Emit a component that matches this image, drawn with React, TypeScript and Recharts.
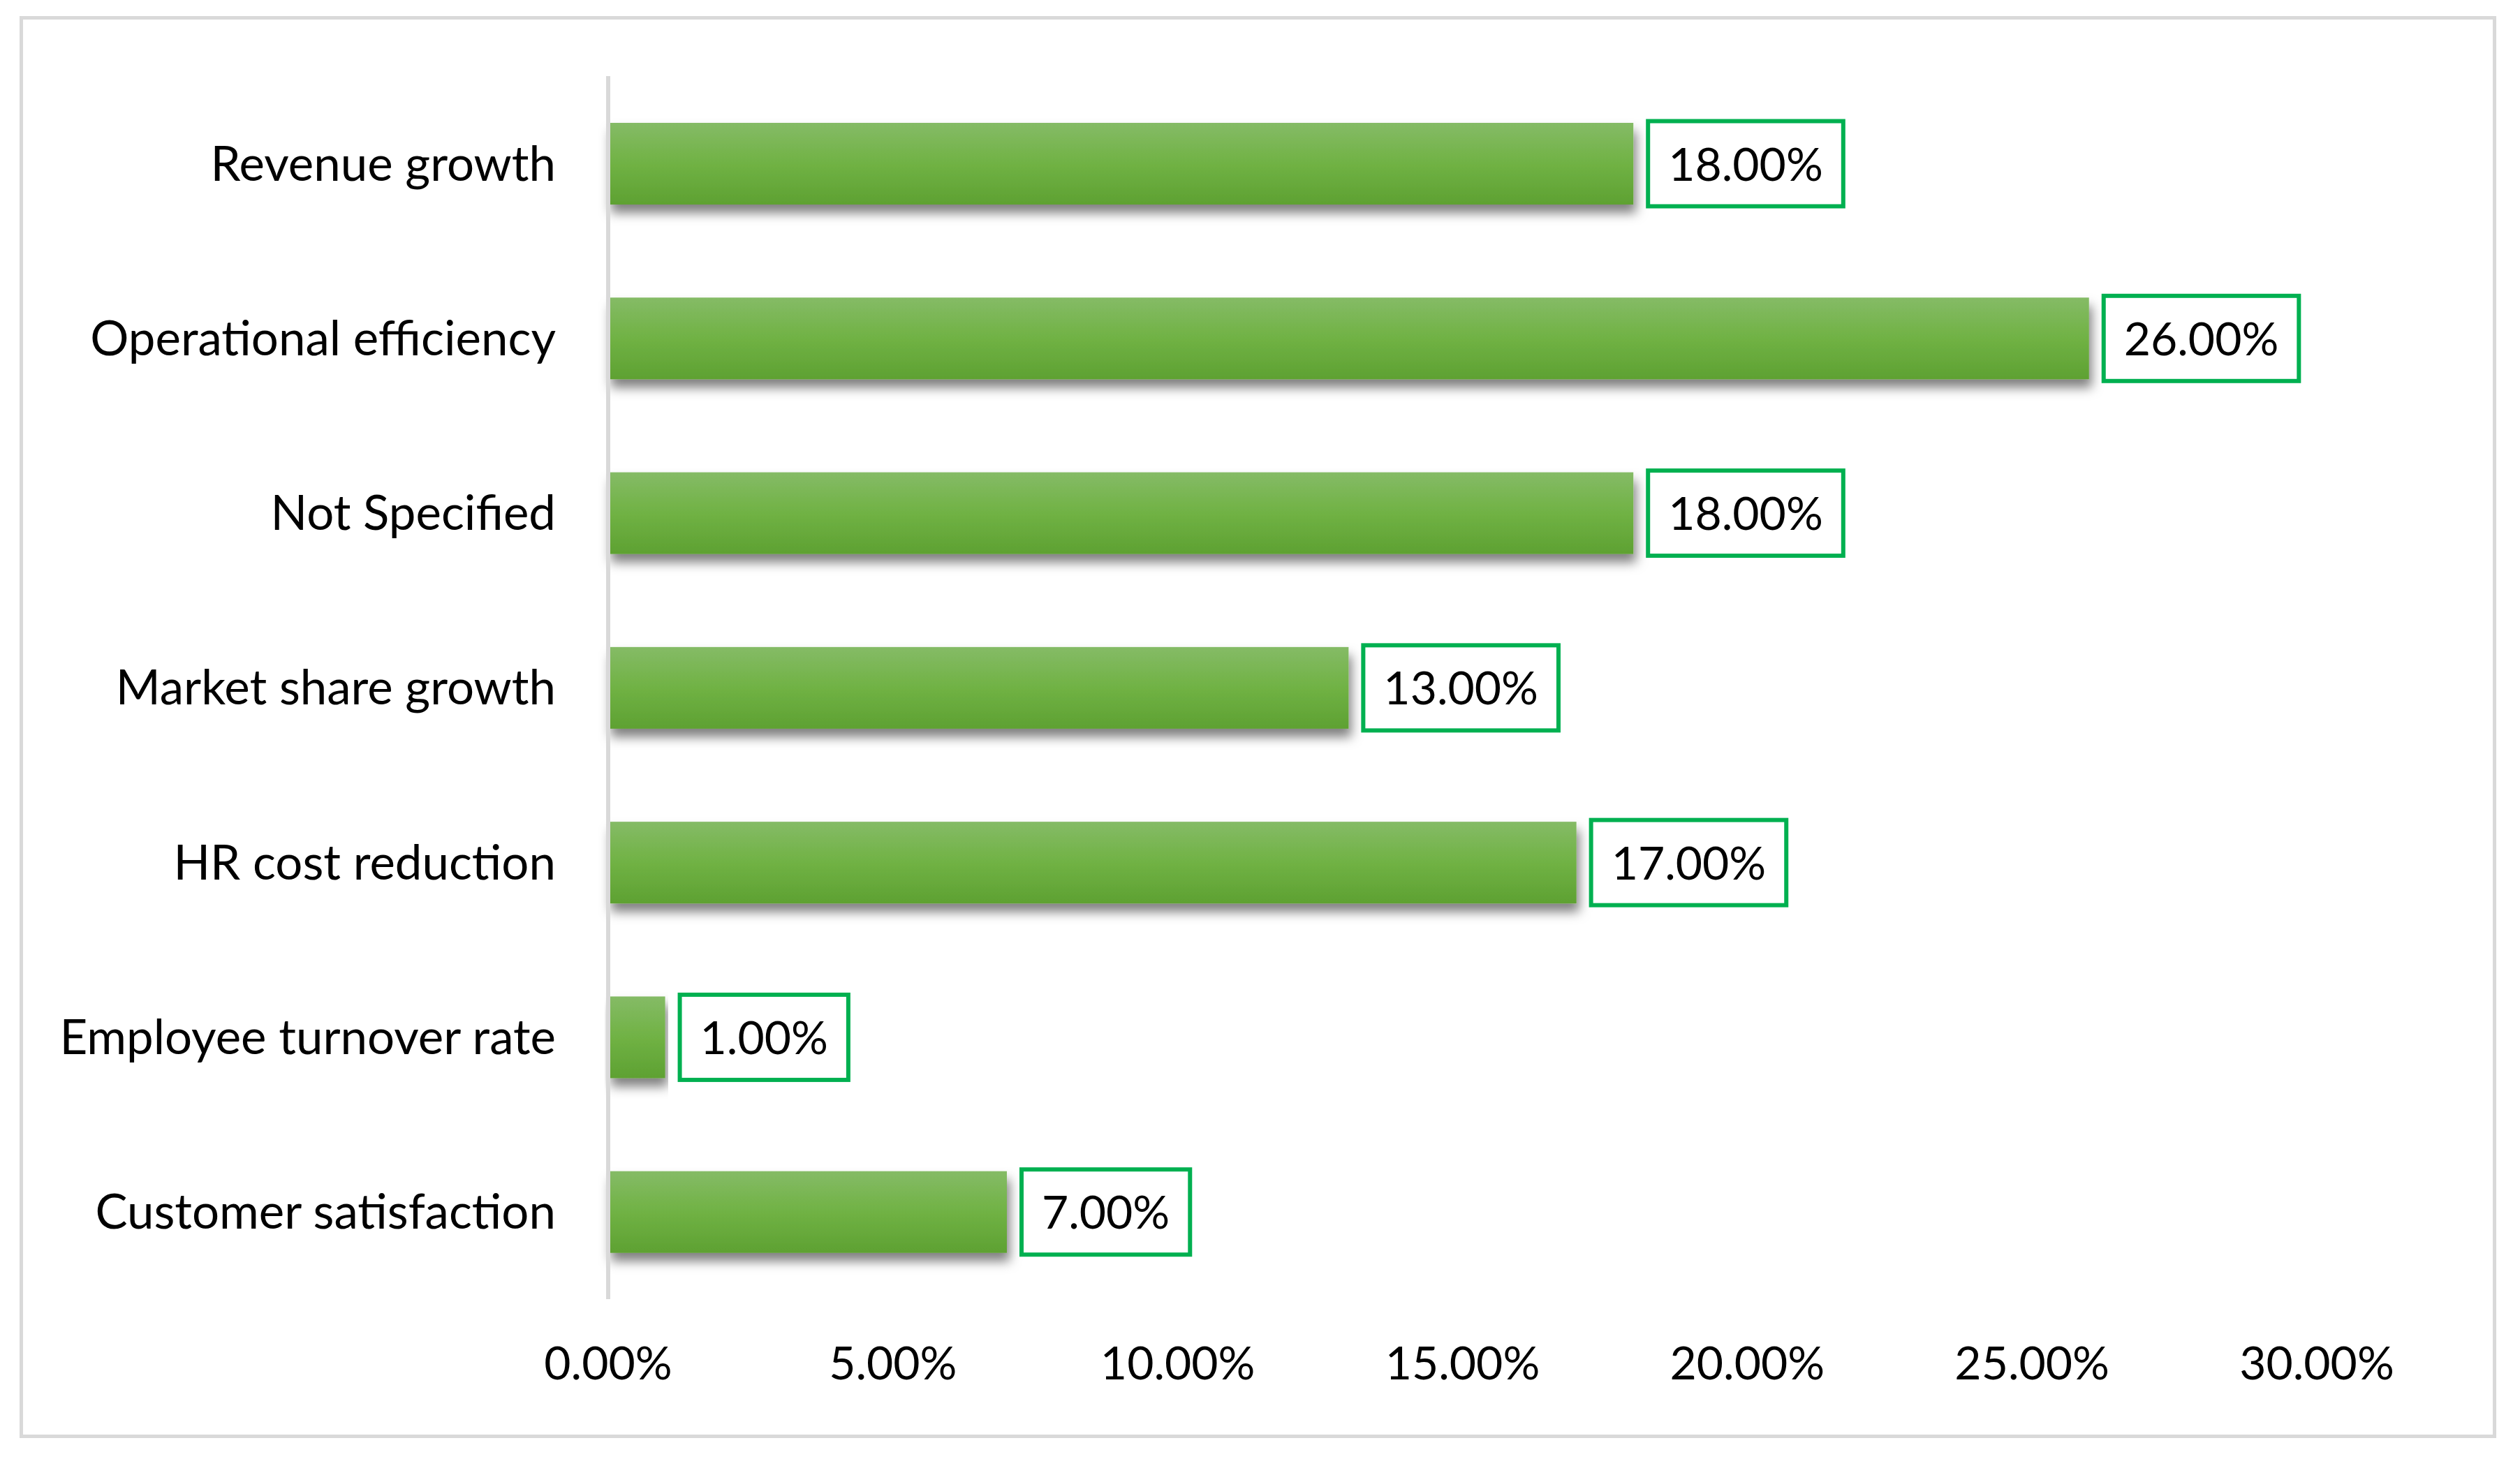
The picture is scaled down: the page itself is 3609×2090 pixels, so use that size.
import React from "react";
import { BarChart, Bar, XAxis, YAxis, LabelList } from "recharts";

const categories = [
  "Revenue growth",
  "Operational efficiency",
  "Not Specified",
  "Market share growth",
  "HR cost reduction",
  "Employee turnover rate",
  "Customer satisfaction",
];
const values = [0.18, 0.26, 0.18, 0.13, 0.17, 0.01, 0.07];
const xTicks = [0, 0.05, 0.1, 0.15, 0.2, 0.25, 0.3];

const data = categories.map((name, i) => ({ name, value: values[i] }));

const FONT = "Lato, 'Open Sans', sans-serif";
const FONT_SIZE = 66;

const pct = (v: number) => `${(v * 100).toFixed(2)}%`;

// measure label text so the green box hugs it like Excel does
let ctx: CanvasRenderingContext2D | null = null;
const textWidth = (s: string) => {
  if (!ctx) ctx = document.createElement("canvas").getContext("2d");
  if (!ctx) return s.length * 36;
  ctx.font = `${FONT_SIZE}px Lato`;
  return ctx.measureText(s).width;
};

const ValueBox = (props: any) => {
  const { x, y, width, height, value } = props;
  const label = pct(value);
  const w = textWidth(label) + 58;
  const bx = x + width + 21;
  const cy = y + height / 2;
  return (
    <g>
      <rect
        x={bx}
        y={cy - 61}
        width={w}
        height={122}
        fill="#ffffff"
        stroke="#00b050"
        strokeWidth={6}
      />
      <text
        x={bx + w / 2}
        y={cy + 24}
        textAnchor="middle"
        fontFamily={FONT}
        fontSize={FONT_SIZE}
        fill="#000000"
      >
        {label}
      </text>
    </g>
  );
};

const GreenBar = (props: any) => {
  const { x, y, width, height } = props;
  return (
    <rect
      x={x}
      y={y}
      width={width}
      height={height}
      fill="url(#barGrad)"
      filter="url(#barShadow)"
    />
  );
};

export default function App() {
  return (
    <div
      style={{
        position: "absolute",
        left: 0,
        top: 0,
        width: 3609,
        height: 2090,
        background: "#ffffff",
      }}
    >
      <svg width={0} height={0} style={{ position: "absolute" }}>
        <defs>
          <linearGradient id="barGrad" x1="0" y1="0" x2="0" y2="1">
            <stop offset="0%" stopColor="#85bb66" />
            <stop offset="50%" stopColor="#70b244" />
            <stop offset="100%" stopColor="#5ea132" />
          </linearGradient>
          <filter id="barShadow" x="-5%" y="-30%" width="110%" height="170%">
            <feDropShadow
              dx={4}
              dy={12}
              stdDeviation={8}
              floodColor="#000000"
              floodOpacity={0.5}
            />
          </filter>
        </defs>
      </svg>
      <div
        style={{
          position: "absolute",
          left: 28,
          top: 23,
          width: 3547,
          height: 2037,
          border: "5px solid #d9d9d9",
          boxSizing: "border-box",
        }}
      />
      <div style={{ position: "absolute", left: 0, top: 0 }}>
        <BarChart
          width={3609}
          height={2090}
          data={data}
          layout="vertical"
          margin={{ top: 109, right: 291, bottom: 199, left: 0 }}
        >
          <XAxis
            type="number"
            domain={[0, 0.3]}
            ticks={xTicks}
            tickFormatter={pct}
            axisLine={false}
            tickLine={false}
            tickMargin={62}
            tick={{ fontFamily: FONT, fontSize: FONT_SIZE, fill: "#000000" }}
            interval={0}
          />
          <YAxis
            type="category"
            dataKey="name"
            width={871}
            tickLine={false}
            tickMargin={69}
            axisLine={{ stroke: "#d9d9d9", strokeWidth: 6 }}
            tick={{ fontFamily: FONT, fontSize: 69, fill: "#000000" }}
            interval={0}
          />
          <Bar
            dataKey="value"
            barSize={117}
            shape={<GreenBar />}
            isAnimationActive={false}
          >
            <LabelList dataKey="value" content={<ValueBox />} />
          </Bar>
        </BarChart>
      </div>
    </div>
  );
}
